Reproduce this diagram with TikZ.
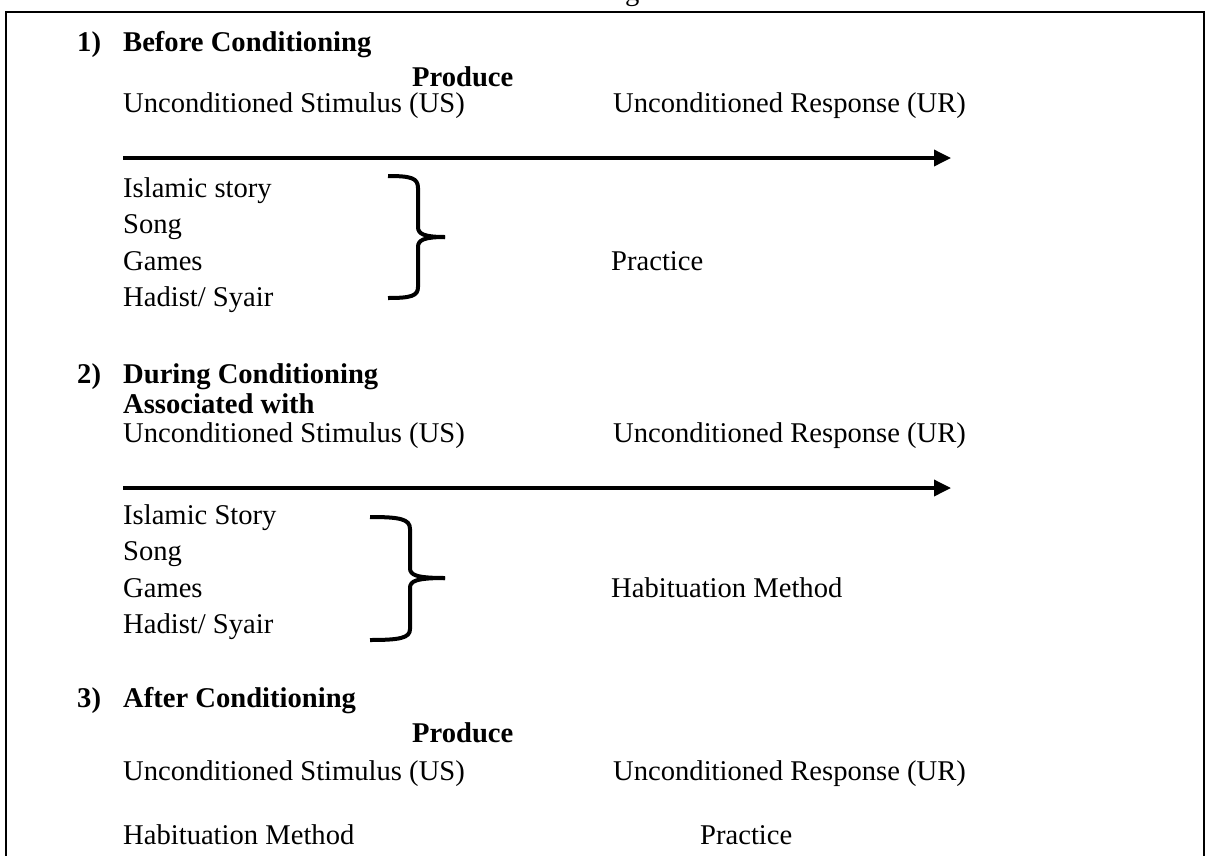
\documentclass[tikz,border=0pt]{standalone}
\usepackage{fontspec}
\setmainfont{Liberation Serif}
\usetikzlibrary{arrows.meta}
\begin{document}
\begin{tikzpicture}[x=1pt,y=-1pt,
  txt/.style={anchor=base west,inner sep=0pt,font=\fontsize{28.6}{32}\selectfont},
  btxt/.style={txt,font=\fontsize{28.6}{32}\selectfont\bfseries},
  frame/.style={line width=2pt},
  flow/.style={line width=3.5pt,-{Triangle[length=17pt,width=16pt]}},
  brace/.style={line width=4pt}]
\useasboundingbox (0,0) rectangle (1205,855);
\clip (0,0) rectangle (1205,855);
\fill[white] (0,0) rectangle (1205,855);
% clipped title fragment
\node[txt] (title) at (625,0) {g};
% frame
\draw[frame] (6,860) -- (6,12) -- (1204,12) -- (1204,860);
% section 1
\node[btxt] (n1) at (77,51) {1)};
\node[btxt] (h1) at (123,51) {Before Conditioning};
\node[btxt] (p1) at (412,86) {Produce};
\node[txt] (us1) at (123,112) {Unconditioned Stimulus (US)};
\node[txt] (ur1) at (613,112) {Unconditioned Response (UR)};
\coordinate (a1s) at (123,158);
\coordinate (a1e) at (951,158);
\draw[flow] (a1s) -- (a1e);
\node[txt] (l1a) at (123,197) {Islamic story};
\node[txt] (l1b) at (123,233) {Song};
\node[txt] (l1c) at (123,270) {Games};
\node[txt] (l1d) at (123,306) {Hadist/ Syair};
\coordinate (b1) at (445,237);
\draw[brace] (388,176) .. controls (411,176) and (418,178) .. (418,188) -- (418,227)
  .. controls (418,234) and (424,237) .. (b1);
\draw[brace] (b1) .. controls (424,237) and (418,240) .. (418,247) -- (418,287)
  .. controls (418,296) and (411,298) .. (388,298);
\node[txt] (pr1) at (611,270) {Practice};
% section 2
\node[btxt] (n2) at (77,383) {2)};
\node[btxt] (h2) at (123,383) {During Conditioning};
\node[btxt] (aw) at (123,413) {Associated with};
\node[txt] (us2) at (123,442) {Unconditioned Stimulus (US)};
\node[txt] (ur2) at (613,442) {Unconditioned Response (UR)};
\coordinate (a2s) at (123,488);
\coordinate (a2e) at (951,488);
\draw[flow] (a2s) -- (a2e);
\node[txt] (l2a) at (123,524) {Islamic Story};
\node[txt] (l2b) at (123,560) {Song};
\node[txt] (l2c) at (123,597) {Games};
\node[txt] (l2d) at (123,633) {Hadist/ Syair};
\coordinate (b2) at (445,578);
\draw[brace] (370,517) .. controls (400,517) and (410,519) .. (410,529) -- (410,568)
  .. controls (410,575) and (416,578) .. (b2);
\draw[brace] (b2) .. controls (416,578) and (410,581) .. (410,588) -- (410,629)
  .. controls (410,638) and (400,640) .. (370,640);
\node[txt] (hm2) at (611,597) {Habituation Method};
% section 3
\node[btxt] (n3) at (77,707) {3)};
\node[btxt] (h3) at (123,707) {After Conditioning};
\node[btxt] (p3) at (412,742) {Produce};
\node[txt] (us3) at (123,780) {Unconditioned Stimulus (US)};
\node[txt] (ur3) at (613,780) {Unconditioned Response (UR)};
\node[txt] (hm3) at (123,844) {Habituation Method};
\node[txt] (pr3) at (700,844) {Practice};
\end{tikzpicture}
\end{document}
